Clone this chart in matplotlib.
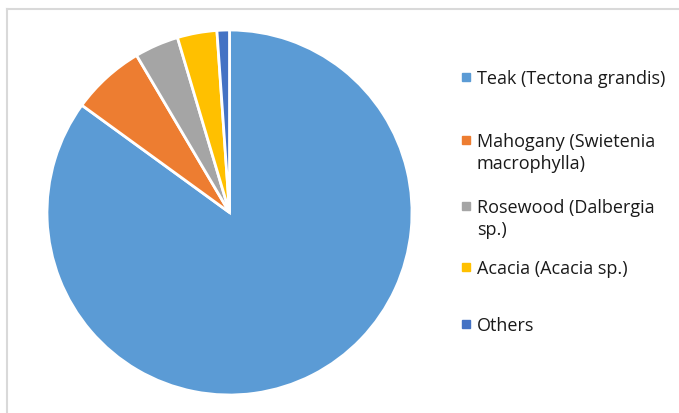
import matplotlib.pyplot as plt
from matplotlib.lines import Line2D

# timber species share (%)
species = ["Teak (Tectona grandis)", "Mahogany (Swietenia\nmacrophylla)",
           "Rosewood (Dalbergia\nsp.)", "Acacia (Acacia sp.)", "Others"]
share = [85.0, 6.5, 3.9, 3.5, 1.1]
colors = ["#5B9BD5", "#ED7D31", "#A5A5A5", "#FFC000", "#4472C4"]

W, H = 679, 414
fig = plt.figure(figsize=(W / 100, H / 100), dpi=100)

# pie axes, placed in pixels
cx, cy, r = 229.5, 213.5, 182.5
ax = fig.add_axes([(cx - r) / W, (H - cy - r) / H, 2 * r / W, 2 * r / H])
ax.pie(share, colors=colors, startangle=90, counterclock=False, radius=1,
       wedgeprops=dict(edgecolor="white", linewidth=2))
ax.set_xlim(-1, 1)
ax.set_ylim(-1, 1)
ax.axis("off")

# overlay in pixel coords for the legend and chart border
ov = fig.add_axes([0, 0, 1, 1], facecolor="none")
ov.set_xlim(0, W)
ov.set_ylim(H, 0)
ov.axis("off")
ov.add_line(Line2D([6.5, 6.5], [9.5, H], color="#d9d9d9", lw=1.5))
ov.add_line(Line2D([6.5, W], [9.5, 9.5], color="#d9d9d9", lw=1.5))

leg_y = [78, 141, 207, 268, 325]
for lab, col, y in zip(species, colors, leg_y):
    ov.plot(466, y, marker="s", ms=5.5, color=col, mec=col)
    for i, line in enumerate(lab.split("\n")):
        ov.text(477, y + 6 + i * 22, line, fontsize=13, family="Open Sans",
                color="#1a1a1a", va="baseline", ha="left")

fig.savefig("out.png", dpi=100)
